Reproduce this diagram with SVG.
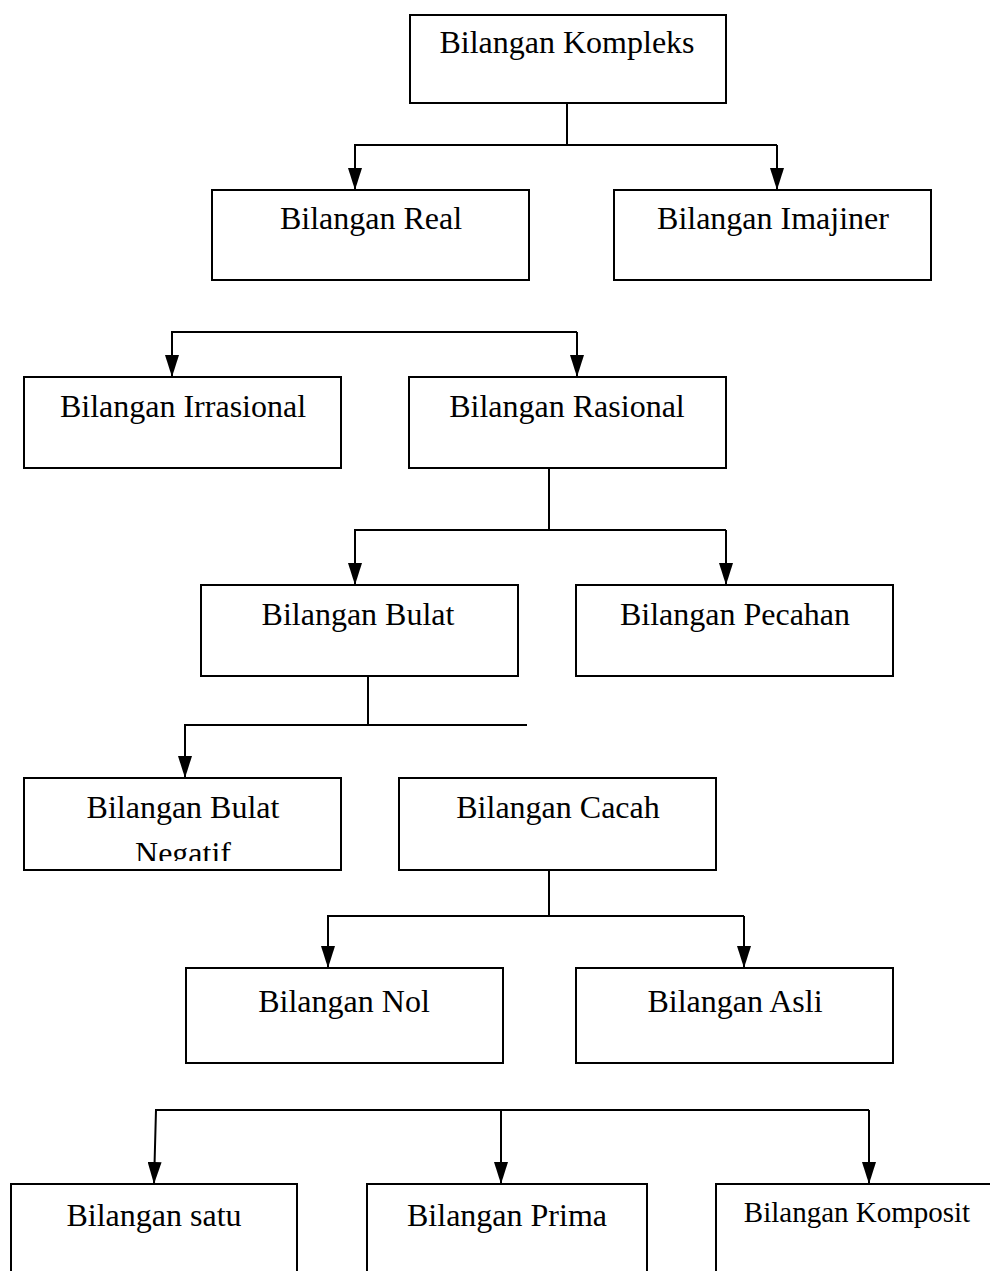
<svg xmlns="http://www.w3.org/2000/svg" width="990" height="1271" viewBox="0 0 990 1271">
  <style>
    .box { fill: #ffffff; stroke: #000000; stroke-width: 2; }
    .lbl { font-family: "Liberation Serif", "Times New Roman", serif; font-size: 32px; fill: #000000; text-anchor: middle; }
    .sm { font-size: 29px; }
    .wire { fill: none; stroke: #000000; stroke-width: 2; }
    .arr { fill: none; stroke: #000000; stroke-width: 2; marker-end: url(#head); }
  </style>
  <defs>
    <marker id="head" viewBox="0 0 22 14" refX="22" refY="7" markerWidth="22" markerHeight="14" markerUnits="userSpaceOnUse" orient="auto">
      <path d="M0,0 L22,7 L0,14 Z" fill="#000000"/>
    </marker>
    <clipPath id="clipNeg">
      <rect x="24" y="778" width="317" height="83"/>
    </clipPath>
  </defs>
  <rect width="990" height="1271" fill="#ffffff"/>

  <!-- connectors -->
  <g id="connectors">
    <polyline class="wire" points="567,103 567,145"/>
    <polyline class="arr" points="777,145 355,145 355,190"/>
    <polyline class="arr" points="777,145 777,190"/>

    <polyline class="arr" points="577,332 172,332 172,377"/>
    <polyline class="arr" points="577,332 577,377"/>

    <polyline class="wire" points="549,468 549,530"/>
    <polyline class="arr" points="726,530 355,530 355,585"/>
    <polyline class="arr" points="726,530 726,585"/>

    <polyline class="wire" points="368,676 368,725"/>
    <polyline class="arr" points="527,725 185,725 185,778"/>

    <polyline class="wire" points="549,870 549,916"/>
    <polyline class="arr" points="744,916 328,916 328,968"/>
    <polyline class="arr" points="744,916 744,968"/>

    <polyline class="arr" points="869,1110 156,1110 154,1184"/>
    <polyline class="arr" points="501,1110 501,1184"/>
    <polyline class="arr" points="869,1110 869,1184"/>
  </g>

  <g id="kompleks">
    <rect class="box" x="410" y="15" width="316" height="88"/>
    <text class="lbl" x="567" y="53">Bilangan Kompleks</text>
  </g>
  <g id="real">
    <rect class="box" x="212" y="190" width="317" height="90"/>
    <text class="lbl" x="371" y="229">Bilangan Real</text>
  </g>
  <g id="imajiner">
    <rect class="box" x="614" y="190" width="317" height="90"/>
    <text class="lbl" x="773" y="229">Bilangan Imajiner</text>
  </g>
  <g id="irrasional">
    <rect class="box" x="24" y="377" width="317" height="91"/>
    <text class="lbl" x="183" y="417">Bilangan Irrasional</text>
  </g>
  <g id="rasional">
    <rect class="box" x="409" y="377" width="317" height="91"/>
    <text class="lbl" x="567" y="417">Bilangan Rasional</text>
  </g>
  <g id="bulat">
    <rect class="box" x="201" y="585" width="317" height="91"/>
    <text class="lbl" x="358" y="625">Bilangan Bulat</text>
  </g>
  <g id="pecahan">
    <rect class="box" x="576" y="585" width="317" height="91"/>
    <text class="lbl" x="735" y="625">Bilangan Pecahan</text>
  </g>
  <g id="bulat-negatif">
    <rect class="box" x="24" y="778" width="317" height="92"/>
    <g clip-path="url(#clipNeg)">
      <text class="lbl" x="183" y="818">Bilangan Bulat</text>
      <text class="lbl" x="183" y="864">Negatif</text>
    </g>
  </g>
  <g id="cacah">
    <rect class="box" x="399" y="778" width="317" height="92"/>
    <text class="lbl" x="558" y="818">Bilangan Cacah</text>
  </g>
  <g id="nol">
    <rect class="box" x="186" y="968" width="317" height="95"/>
    <text class="lbl" x="344" y="1012">Bilangan Nol</text>
  </g>
  <g id="asli">
    <rect class="box" x="576" y="968" width="317" height="95"/>
    <text class="lbl" x="735" y="1012">Bilangan Asli</text>
  </g>
  <g id="satu">
    <rect class="box" x="11" y="1184" width="286" height="100"/>
    <text class="lbl" x="154" y="1226">Bilangan satu</text>
  </g>
  <g id="prima">
    <rect class="box" x="367" y="1184" width="280" height="100"/>
    <text class="lbl" x="507" y="1226">Bilangan Prima</text>
  </g>
  <g id="komposit">
    <rect class="box" x="716" y="1184" width="290" height="100"/>
    <text class="lbl sm" x="857" y="1222">Bilangan Komposit</text>
  </g>
</svg>
